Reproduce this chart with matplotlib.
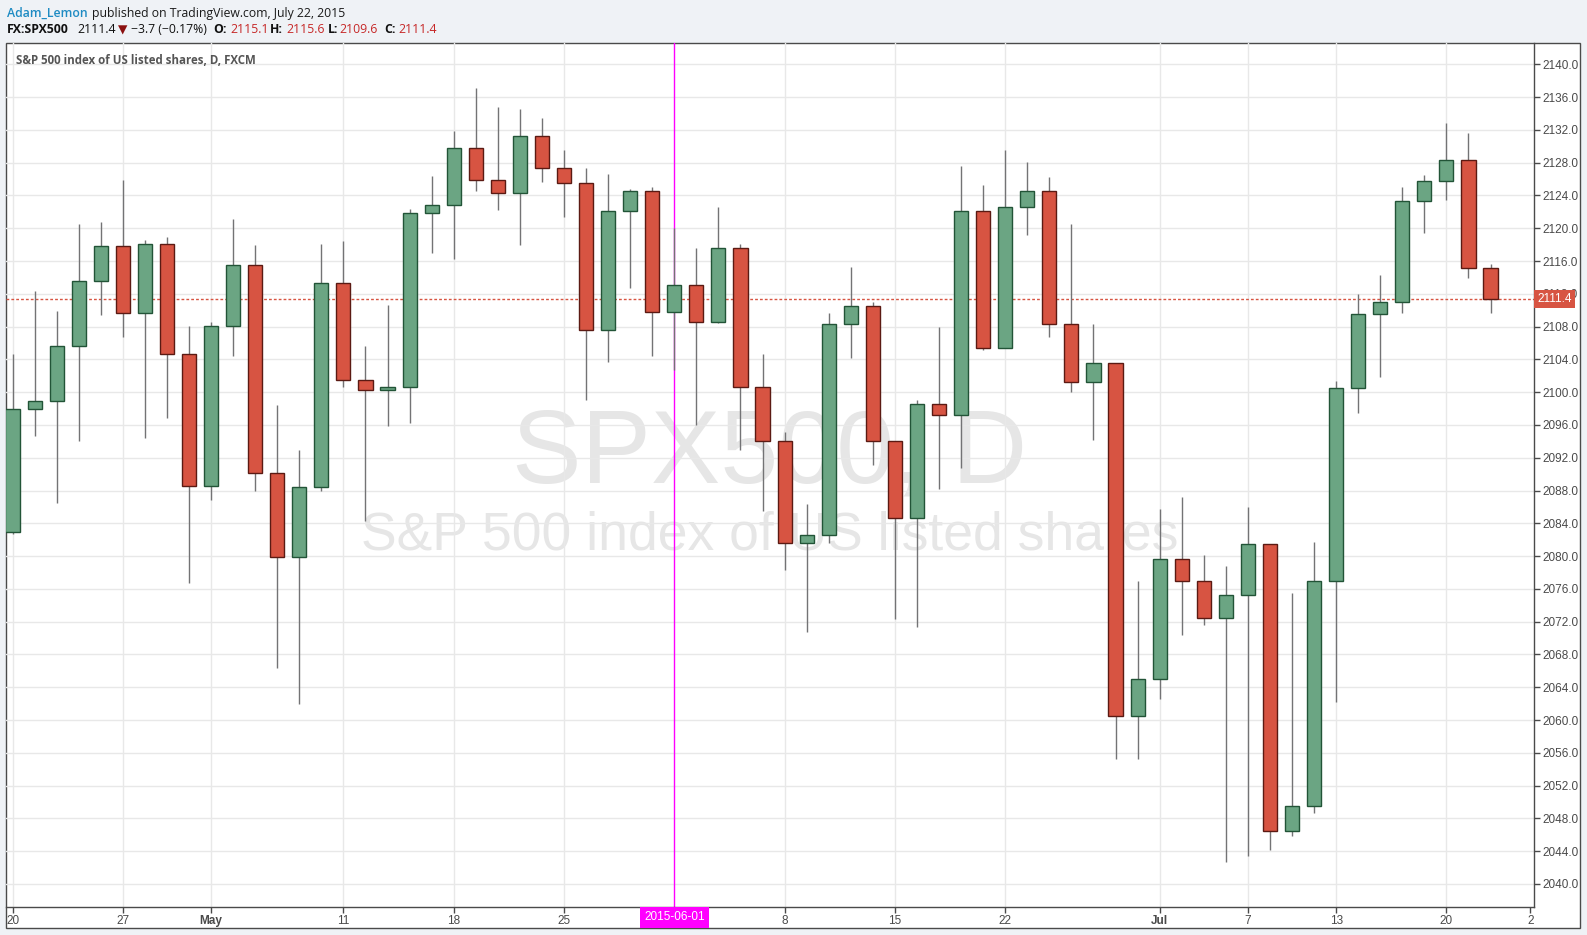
import pandas as pd
import matplotlib
matplotlib.use("Agg")
import matplotlib.pyplot as plt
import matplotlib.transforms as mtransforms
from matplotlib.patches import Rectangle

# ── 数据 (FX:SPX500 日线, 2015-04-20 → 2015-07-22)
dates = pd.bdate_range("2015-04-20", "2015-07-22")

opens = [2082.9, 2097.9, 2098.9, 2105.6, 2113.6, 2117.8, 2109.6, 2118.1, 2104.6, 2088.6,
         2108.1, 2115.5, 2090.1, 2079.9, 2088.4, 2113.3, 2101.5, 2100.3, 2100.6, 2121.8,
         2122.8, 2129.8, 2125.9, 2124.3, 2131.3, 2127.3, 2125.5, 2107.6, 2122.1, 2124.5,
         2109.8, 2113.1, 2108.6, 2117.6, 2100.6, 2094.1, 2081.6, 2082.6, 2108.3, 2110.5,
         2094.1, 2084.7, 2098.6, 2097.2, 2122.1, 2105.4, 2122.6, 2124.5, 2108.3, 2101.3,
         2103.6, 2060.5, 2065.0, 2079.7, 2077.0, 2072.5, 2075.2, 2081.5, 2046.5, 2049.5,
         2077.0, 2100.5, 2109.5, 2111.0, 2123.3, 2125.8, 2128.3, 2115.1]
highs = [2104.6, 2112.4, 2109.9, 2120.5, 2120.8, 2125.9, 2118.6, 2118.9, 2108.1, 2108.6,
         2121.1, 2117.9, 2098.4, 2093.0, 2118.1, 2118.4, 2105.6, 2110.6, 2122.3, 2126.4,
         2131.9, 2137.1, 2134.8, 2134.5, 2133.5, 2129.6, 2127.3, 2126.6, 2124.8, 2125.0,
         2120.0, 2117.6, 2122.6, 2118.1, 2104.6, 2095.1, 2086.4, 2109.6, 2115.3, 2111.0,
         2094.1, 2099.0, 2107.9, 2127.6, 2125.3, 2129.6, 2128.1, 2126.2, 2120.5, 2108.3,
         2103.6, 2077.0, 2085.8, 2087.2, 2080.1, 2078.8, 2086.0, 2081.5, 2075.5, 2081.7,
         2101.4, 2112.0, 2114.3, 2125.0, 2126.5, 2132.8, 2131.6, 2115.6]
lows = [2082.7, 2094.7, 2086.5, 2094.0, 2109.4, 2106.7, 2094.4, 2096.9, 2076.7, 2086.9,
        2104.4, 2088.0, 2066.3, 2061.9, 2088.0, 2100.6, 2084.3, 2095.9, 2096.2, 2117.0,
        2116.2, 2124.6, 2122.2, 2117.9, 2125.6, 2121.4, 2099.0, 2103.7, 2112.7, 2104.4,
        2102.7, 2096.0, 2108.4, 2093.0, 2085.5, 2078.3, 2070.8, 2081.6, 2104.2, 2091.1,
        2072.3, 2071.3, 2088.2, 2090.8, 2105.2, 2105.4, 2119.2, 2106.7, 2100.0, 2094.2,
        2055.2, 2055.2, 2062.6, 2070.4, 2071.6, 2042.7, 2043.4, 2044.1, 2045.9, 2048.6,
        2062.2, 2097.4, 2101.9, 2109.6, 2119.4, 2123.4, 2113.9, 2109.6]
closes = [2097.9, 2098.9, 2105.6, 2113.6, 2117.8, 2109.6, 2118.1, 2104.6, 2088.6, 2108.1,
          2115.5, 2090.1, 2079.9, 2088.4, 2113.3, 2101.5, 2100.3, 2100.6, 2121.8, 2122.8,
          2129.8, 2125.9, 2124.3, 2131.3, 2127.3, 2125.5, 2107.6, 2122.1, 2124.5, 2109.8,
          2113.1, 2108.6, 2117.6, 2100.6, 2094.1, 2081.6, 2082.6, 2108.3, 2110.5, 2094.1,
          2084.7, 2098.6, 2097.2, 2122.1, 2105.4, 2122.6, 2124.5, 2108.3, 2101.3, 2103.6,
          2060.5, 2065.0, 2079.7, 2077.0, 2072.5, 2075.2, 2081.5, 2046.5, 2049.5, 2077.0,
          2100.5, 2109.5, 2111.0, 2123.3, 2125.8, 2128.3, 2115.1, 2111.4]

tick_dates = ["2015-04-20", "2015-04-27", "2015-05-01", "2015-05-11", "2015-05-18",
              "2015-05-25", "2015-06-08", "2015-06-15", "2015-06-22", "2015-07-01",
              "2015-07-07", "2015-07-13", "2015-07-20"]
tick_labels = ["20", "27", "May", "11", "18", "25", "8", "15", "22", "Jul", "7", "13", "20"]
bold_labels = ["May", "Jul"]
cursor_date = "2015-06-01"
last_price = 2111.4

UP, UP_EDGE = "#6ba583", "#225437"
DN, DN_EDGE = "#d75442", "#5b1a13"
WICK = "#737375"
GRID = "#e8e8e8"
AXC = "#4a4a4a"

plt.rcParams["font.family"] = ["Liberation Sans", "DejaVu Sans"]

W, H = 1587, 935
fig = plt.figure(figsize=(W / 100, H / 100), dpi=100, facecolor="#eff2f6")


def fy(y):
    return 1 - y / H


# ── 外框
fig.patches.append(Rectangle((6 / W, fy(928)), (1580 - 6) / W, (928 - 43.3) / H,
                             transform=fig.transFigure, fc="white", ec=AXC, lw=1, zorder=-1))

ax = fig.add_axes([6 / W, fy(906.7), (1534 - 6) / W, (906.7 - 43.3) / H])
ax.patch.set_alpha(0)
for s in ["left", "top"]:
    ax.spines[s].set_visible(False)
for s in ["right", "bottom"]:
    ax.spines[s].set_color(AXC)
    ax.spines[s].set_linewidth(1)

x = list(range(len(dates)))
ax.set_xlim(-0.295, 68.97)
ax.set_ylim(2037.23, 2142.56)

# ── 网格
yt = list(range(2040, 2141, 4))
ax.set_yticks(yt)
ax.set_yticklabels([f"{v:.1f}" for v in yt])
ax.yaxis.tick_right()
ax.yaxis.grid(True, color=GRID, lw=1, zorder=0)
ax.set_axisbelow(True)

tpos = [dates.get_loc(pd.Timestamp(d)) for d in tick_dates]
for p in tpos:
    ax.axvline(p, color=GRID, lw=1, zorder=0.5)
ax.set_xticks(tpos + [len(dates) + 0.8])
ax.set_xticklabels(tick_labels + ["2"])
for lab in ax.get_xticklabels():
    if lab.get_text() in bold_labels:
        lab.set_fontweight("bold")
ax.tick_params(axis="both", length=4, width=1, color=AXC, labelsize=8.5,
               labelcolor=AXC, pad=2)

# ── 水印 (画在K线下面)
ax.text(770 / W, fy(483), "SPX500, D", transform=fig.transFigure, ha="center",
        va="baseline", fontsize=75, color="#e6e6e6", zorder=0.2)
ax.text(770 / W, fy(549.6), "S&P 500 index of US listed shares", transform=fig.transFigure,
        ha="center", va="baseline", fontsize=38.5, color="#e6e6e6", zorder=0.2)

# ── 光标 & 价格线
ci = dates.get_loc(pd.Timestamp(cursor_date))
ax.axvline(ci, color="#ff00ff", lw=1, zorder=1.5)
ax.axhline(last_price, color=DN, lw=1, ls=(0, (2, 1.5)), zorder=1.6)

# ── K线
for i in x:
    o, h, l, c = opens[i], highs[i], lows[i], closes[i]
    ax.vlines(i, l, h, color=WICK, lw=1, zorder=2)
    up = c >= o
    ax.bar(i, max(abs(c - o), 0.15), bottom=min(o, c), width=0.64,
           color=UP if up else DN, edgecolor=UP_EDGE if up else DN_EDGE,
           linewidth=1, zorder=3)

trans = mtransforms.blended_transform_factory(ax.transAxes, ax.transData)
ax.annotate(f"{last_price:.1f}", xy=(1, last_price), xycoords=trans,
            xytext=(2.3, 0), textcoords="offset points", ha="left", va="center",
            color="white", fontsize=8.5, annotation_clip=False, zorder=6,
            bbox=dict(boxstyle="square,pad=0.25", fc=DN, ec="none"))

trans2 = mtransforms.blended_transform_factory(ax.transData, ax.transAxes)
ax.text(ci, -0.0125, cursor_date, transform=trans2, ha="center", va="center",
        color="white", fontsize=8.5, clip_on=False, zorder=6,
        bbox=dict(boxstyle="square,pad=0.35", fc="#ff00ff", ec="none"))

# ── 标题
hdr = ["Open Sans", "DejaVu Sans"]
fig.text(15.7 / W, fy(63.7), "S&P 500 index of US listed shares, D, FXCM",
         family=hdr, fontsize=8.3, fontweight="bold", color="#555555", va="baseline")

fig.text(6.7 / W, fy(16.7), "Adam_Lemon", family=hdr, fontsize=8.8,
         fontweight="semibold", color="#1e8bc3", va="baseline")
fig.text(92 / W, fy(16.7), "published on TradingView.com, July 22, 2015",
         family=hdr, fontsize=8.8, color="#1a1a1a", va="baseline")

line2 = [
    (6.7, "FX:SPX500", "bold", "#111111"),
    (77, "2111.4", "normal", "#111111"),
    (118, "▼", "normal", "#8b1010"),
    (131, "−3.7 (−0.17%)", "normal", "#111111"),
    (213, "O:", "bold", "#111111"),
    (230, "2115.1", "normal", "#c62828"),
    (270, "H:", "bold", "#111111"),
    (286, "2115.6", "normal", "#c62828"),
    (328, "L:", "bold", "#111111"),
    (339, "2109.6", "normal", "#c62828"),
    (384, "C:", "bold", "#111111"),
    (398, "2111.4", "normal", "#c62828"),
]
for px_, txt, wt, col in line2:
    fig.text(px_ / W, fy(33.3), txt, family=hdr, fontsize=8.8, fontweight=wt,
             color=col, va="baseline")

fig.savefig("out.png", dpi=100, facecolor=fig.get_facecolor())
